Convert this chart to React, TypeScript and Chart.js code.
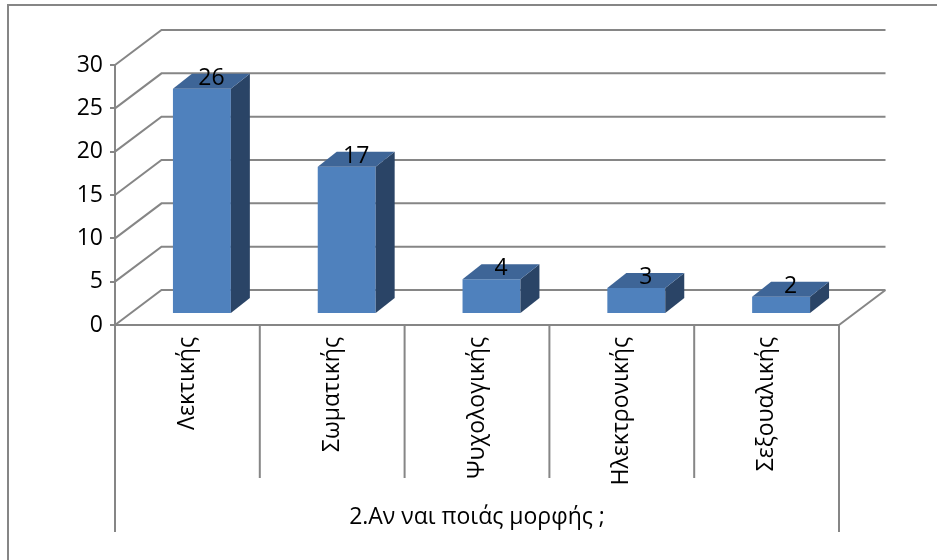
import React, { useEffect, useRef } from 'react';
import { Chart, registerables } from 'chart.js';

Chart.register(...registerables);

const categories = ['Λεκτικής', 'Σωματικής', 'Ψυχολογικής', 'Ηλεκτρονικής', 'Σεξουαλικής'];
const values = [26, 17, 4, 3, 2];
const yMin = 0;
const yMax = 30;
const yStep = 5;
const groupLabel = '2.Αν ναι ποιάς μορφής ;';

const FONT = "'Open Sans', 'Noto Sans', sans-serif";
const FONT_SIZE = 23;
const GRID = '#868686';
const WALL_DEPTH = { dx: 46.5, dy: -35 };
const BAR_SHIFT = { dx: 14.5, dy: -11 };
const BAR_DEPTH = { dx: 19, dy: -15 };
const FRONT = '#4F81BD';
const SIDE = '#2A4466';
const TOP = '#3E6597';

const threeD = {
  id: 'threeD',
  beforeDraw(chart: any) {
    const ctx = chart.ctx;
    ctx.save();
    ctx.fillStyle = '#ffffff';
    ctx.fillRect(0, 0, chart.width, chart.height);
    ctx.strokeStyle = GRID;
    ctx.lineWidth = 2;
    ctx.strokeRect(8, 5, chart.width + 50, chart.height + 50);
    ctx.restore();
  },
  beforeDatasetsDraw(chart: any) {
    const { ctx, chartArea, scales } = chart;
    const y = scales.y;
    const x = scales.x;
    ctx.save();
    ctx.strokeStyle = GRID;
    ctx.lineWidth = 2;
    ctx.lineJoin = 'miter';
    ctx.beginPath();
    y.ticks.forEach((t: any) => {
      const py = y.getPixelForValue(t.value);
      ctx.moveTo(chartArea.left, py);
      ctx.lineTo(chartArea.left + WALL_DEPTH.dx, py + WALL_DEPTH.dy);
      ctx.lineTo(chartArea.right + WALL_DEPTH.dx, py + WALL_DEPTH.dy);
    });
    const p0 = y.getPixelForValue(0);
    ctx.moveTo(chartArea.right, p0);
    ctx.lineTo(chartArea.right + WALL_DEPTH.dx, p0 + WALL_DEPTH.dy);
    const n = categories.length;
    const half = (x.getPixelForValue(1) - x.getPixelForValue(0)) / 2;
    for (let i = 0; i <= n; i++) {
      const px = i < n ? x.getPixelForValue(i) - half : x.getPixelForValue(n - 1) + half;
      ctx.moveTo(px, p0);
      ctx.lineTo(px, p0 + (i === 0 || i === n ? 207 : 153));
    }
    ctx.stroke();
    ctx.restore();
    ctx.save();
    ctx.translate(BAR_SHIFT.dx, BAR_SHIFT.dy);
  },
  afterDatasetsDraw(chart: any) {
    const ctx = chart.ctx;
    ctx.restore();
    ctx.save();
    ctx.translate(BAR_SHIFT.dx, BAR_SHIFT.dy);
    const meta = chart.getDatasetMeta(0);
    meta.data.forEach((el: any, i: number) => {
      const { x, y, base, width } = el.getProps(['x', 'y', 'base', 'width'], true);
      const L = x - width / 2;
      const R = x + width / 2;
      const T = Math.min(y, base);
      const B = Math.max(y, base);
      ctx.fillStyle = SIDE;
      ctx.beginPath();
      ctx.moveTo(R, T);
      ctx.lineTo(R + BAR_DEPTH.dx, T + BAR_DEPTH.dy);
      ctx.lineTo(R + BAR_DEPTH.dx, B + BAR_DEPTH.dy);
      ctx.lineTo(R, B);
      ctx.closePath();
      ctx.fill();
      ctx.fillStyle = TOP;
      ctx.beginPath();
      ctx.moveTo(L, T);
      ctx.lineTo(L + BAR_DEPTH.dx, T + BAR_DEPTH.dy);
      ctx.lineTo(R + BAR_DEPTH.dx, T + BAR_DEPTH.dy);
      ctx.lineTo(R, T);
      ctx.closePath();
      ctx.fill();
      ctx.fillStyle = '#000000';
      ctx.font = `${FONT_SIZE}px ${FONT}`;
      ctx.textAlign = 'center';
      ctx.textBaseline = 'bottom';
      ctx.fillText(String(values[i]), x + BAR_DEPTH.dx / 2, T + 1);
    });
    ctx.restore();
  },
};

export default function App() {
  const ref = useRef<HTMLCanvasElement>(null);
  useEffect(() => {
    const chart = new Chart(ref.current as HTMLCanvasElement, {
      type: 'bar',
      data: {
        labels: categories,
        datasets: [
          {
            data: values,
            backgroundColor: FRONT,
            borderWidth: 0,
            barPercentage: 0.4,
            categoryPercentage: 1,
          },
        ],
      },
      options: {
        animation: false,
        responsive: false,
        maintainAspectRatio: false,
        layout: { padding: { left: 0, top: 65, right: 98, bottom: 0 } },
        plugins: { legend: { display: false }, tooltip: { enabled: false } },
        scales: {
          x: {
            type: 'category',
            grid: { display: false },
            border: { display: true, color: GRID, width: 2 },
            ticks: {
              autoSkip: false,
              maxRotation: 90,
              minRotation: 90,
              padding: 4,
              color: '#000000',
              font: { family: FONT, size: FONT_SIZE },
            },
            title: {
              display: true,
              text: groupLabel,
              color: '#000000',
              font: { family: FONT, size: FONT_SIZE },
              padding: { top: 0, bottom: 29 },
            },
            afterFit(scale: any) {
              scale.height = 235;
            },
          },
          y: {
            min: yMin,
            max: yMax,
            ticks: {
              stepSize: yStep,
              padding: 7,
              color: '#000000',
              font: { family: FONT, size: FONT_SIZE },
            },
            grid: { display: true, drawOnChartArea: false, drawTicks: true, tickLength: 5, color: GRID, lineWidth: 2 },
            border: { display: true, color: GRID, width: 2 },
            afterFit(scale: any) {
              scale.width = 115;
            },
          },
        },
      },
      plugins: [threeD],
    });
    return () => chart.destroy();
  }, []);
  return (
    <div style={{ position: 'absolute', left: 0, top: 0, width: 937, height: 560 }}>
      <canvas ref={ref} width={937} height={560} style={{ display: 'block', width: 937, height: 560 }} />
    </div>
  );
}
